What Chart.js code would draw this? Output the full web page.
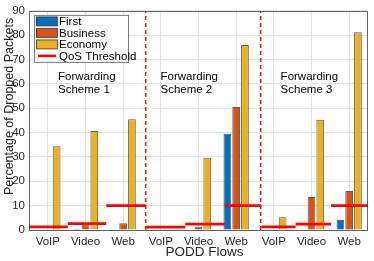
<!DOCTYPE html>
<html>
<head>
<meta charset="utf-8">
<script src="https://cdn.jsdelivr.net/npm/chart.js@4"></script>
<style>
  html, body { margin: 0; padding: 0; background: #fff; }
  #wrap { width: 374px; height: 261px; }
</style>
</head>
<body>
<div id="wrap"><canvas id="podd" width="374" height="261"></canvas></div>
<script>
// categories
var flows = ['VoIP', 'Video', 'Web', 'VoIP', 'Video', 'Web', 'VoIP', 'Video', 'Web'];
// percentage of dropped packets per class
var first = [0, 0.4, 0, 0, 0, 39.5, 0, 0, 4.1];
var business = [0, 2.4, 2.8, 0, 1.3, 50.5, 0, 13.6, 16];
var economy = [34.4, 40.7, 45.5, 0, 29.7, 76, 5.2, 45.3, 81.2];
// QoS threshold per flow and where each threshold segment starts/ends (x in category units)
var qos = [1.3, 2.6, 10, 1.2, 2.4, 10, 1.3, 2.4, 10];
var qosEdges = [0.5, 1.53, 2.55, 3.6, 4.65, 5.7, 6.67, 7.58, 8.52, 9.5];
// scheme separators and labels
var dividers = [3.6, 6.65];
var schemeNames = ['Scheme 1', 'Scheme 2', 'Scheme 3'];
var schemeX = [1.27, 3.99, 7.18];
var yTicks = [0, 10, 20, 30, 40, 50, 60, 70, 80, 90];

var FONT = 'Liberation Sans, Arial, Helvetica, sans-serif';
var colors = { first: '#0072BD', business: '#D95319', economy: '#EDB120', qos: '#FF0000' };

// one linear x axis for everything: category i sits at x = i + 1
function xy(arr) {
  return arr.map(function (v, i) { return { x: i + 1, y: v }; });
}
// threshold segments, broken with nulls
var qosPts = [];
for (var i = 0; i < qos.length; i++) {
  qosPts.push({ x: qosEdges[i], y: qos[i] });
  qosPts.push({ x: qosEdges[i + 1], y: qos[i] });
  qosPts.push({ x: qosEdges[i + 1], y: null });
}
var divPts = [];
dividers.forEach(function (d) {
  divPts.push({ x: d, y: yTicks[0] });
  divPts.push({ x: d, y: yTicks[yTicks.length - 1] });
  divPts.push({ x: d, y: null });
});

function bars(label, data, color) {
  return {
    type: 'bar', label: label, data: xy(data),
    backgroundColor: color, borderColor: 'rgba(40,40,40,0.75)', borderWidth: 1,
    categoryPercentage: 0.7, barPercentage: 0.88, order: 2
  };
}

var extras = {
  id: 'extras',
  afterDatasetsDraw: function (chart) {
    var ctx = chart.ctx, a = chart.chartArea;
    var xs = chart.scales.x, ys = chart.scales.y;
    ctx.save();
    // box around axes
    ctx.strokeStyle = 'rgba(38,38,38,0.7)';
    ctx.lineWidth = 1;
    ctx.strokeRect(Math.round(a.left) + 0.5, Math.round(a.top) + 0.5,
      Math.round(a.right - a.left) - 1, Math.round(a.bottom - a.top));
    // axis titles (MATLAB puts them a bit off centre)
    ctx.fillStyle = '#262626';
    ctx.textAlign = 'center';
    ctx.textBaseline = 'middle';
    ctx.font = '13.5px ' + FONT;
    ctx.fillText('PODD Flows', (a.left + a.right) / 2 + 6, a.bottom + 22);
    ctx.save();
    ctx.translate(10, (a.top + a.bottom) / 2 - 14);
    ctx.rotate(-Math.PI / 2);
    ctx.font = '12.5px ' + FONT;
    ctx.fillText('Percentage of Dropped Packets', 0, 0);
    ctx.restore();
    // scheme labels
    ctx.fillStyle = '#000';
    ctx.font = '11.5px ' + FONT;
    ctx.textAlign = 'left';
    for (var s = 0; s < schemeNames.length; s++) {
      var px = xs.getPixelForValue(schemeX[s]);
      ctx.fillText('Forwarding', px, ys.getPixelForValue(62.9));
      ctx.fillText(schemeNames[s], px, ys.getPixelForValue(57.4));
    }
    // legend
    var lx = a.left + 5, ly = a.top + 4, lw = 94, lh = 47;
    ctx.fillStyle = '#fff';
    ctx.fillRect(lx, ly, lw, lh);
    ctx.strokeStyle = 'rgba(38,38,38,0.6)';
    ctx.strokeRect(lx + 0.5, ly + 0.5, lw, lh);
    ctx.font = '11.5px ' + FONT;
    chart.data.datasets.forEach(function (ds, k) {
      if (!ds.label) return;
      var cy = ly + 6.5 + k * 11.5;
      if (ds.type === 'bar') {
        ctx.fillStyle = ds.backgroundColor;
        ctx.fillRect(lx + 2, cy - 4.5, 21, 9);
        ctx.strokeStyle = 'rgba(40,40,40,0.75)';
        ctx.strokeRect(lx + 2.5, cy - 4.5, 21, 9);
      } else {
        ctx.strokeStyle = ds.borderColor;
        ctx.lineWidth = 2.5;
        ctx.beginPath();
        ctx.moveTo(lx + 4, cy); ctx.lineTo(lx + 22, cy);
        ctx.stroke();
        ctx.lineWidth = 1;
      }
      ctx.fillStyle = '#000';
      ctx.fillText(ds.label, lx + 25, cy + 0.5);
    });
    ctx.restore();
  }
};

new Chart(document.getElementById('podd').getContext('2d'), {
  type: 'bar',
  data: {
    datasets: [
      bars('First', first, colors.first),
      bars('Business', business, colors.business),
      bars('Economy', economy, colors.economy),
      {
        type: 'line', label: 'QoS Threshold', data: qosPts,
        borderColor: colors.qos, borderWidth: 2.7, pointRadius: 0, spanGaps: false, order: 1
      },
      {
        type: 'line', label: '', data: divPts,
        borderColor: colors.qos, borderWidth: 1.4, borderDash: [4, 3], pointRadius: 0, spanGaps: false, order: 1
      }
    ]
  },
  options: {
    responsive: false,
    animation: false,
    layout: { padding: { top: 9, right: 6, left: 0, bottom: 0 } },
    plugins: { legend: { display: false }, tooltip: { enabled: false } },
    scales: {
      x: {
        type: 'linear', min: 0.5, max: 9.5, offset: false,
        afterBuildTicks: function (s) { s.ticks = flows.map(function (f, i) { return { value: i + 1 }; }); },
        grid: { color: '#e3e3e3', offset: false, drawTicks: false },
        border: { display: false },
        ticks: {
          color: '#262626', font: { family: FONT, size: 11.5 }, padding: 5, maxRotation: 0, autoSkip: false,
          callback: function (v) { return flows[v - 1]; }
        },
        afterFit: function (s) { s.height = 31; }
      },
      y: {
        min: 0, max: 90,
        afterBuildTicks: function (s) { s.ticks = yTicks.map(function (v) { return { value: v }; }); },
        grid: { color: '#e3e3e3', drawTicks: false },
        border: { display: false },
        ticks: { color: '#262626', font: { family: FONT, size: 11.5 }, padding: 4 },
        afterFit: function (s) { s.width = 29; }
      }
    }
  },
  plugins: [extras]
});
</script>
</body>
</html>
